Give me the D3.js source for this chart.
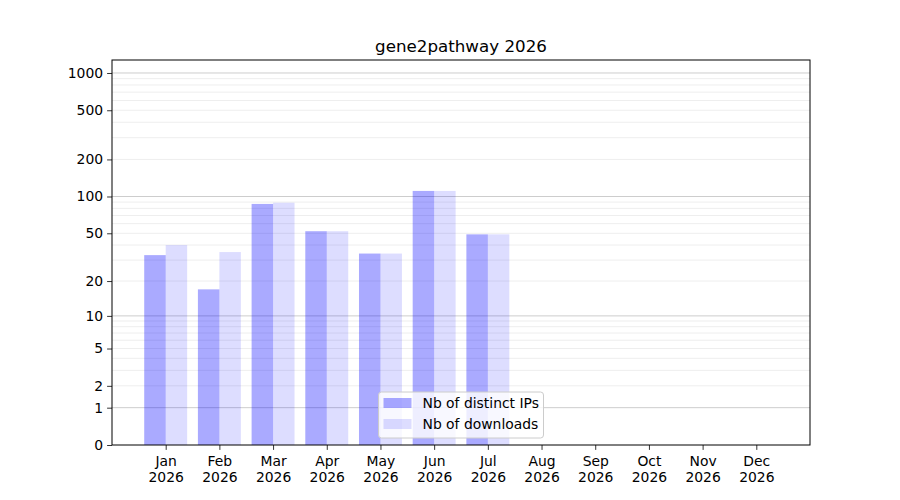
<!DOCTYPE html>
<html>
<head>
<meta charset="utf-8">
<script src="https://cdn.jsdelivr.net/npm/d3@7"></script>
<style>
  body { margin: 0; background: #fff; }
  text { font-family: "DejaVu Sans", sans-serif; fill: #000; }
</style>
</head>
<body>
<div id="container"></div>
<script>
/* DATA */
const months = ["Jan", "Feb", "Mar", "Apr", "May", "Jun", "Jul", "Aug", "Sep", "Oct", "Nov", "Dec"];
const year = "2026";
const distinctIPs = [33, 17, 87, 52, 34, 111, 49];
const downloads = [40, 35, 89, 52, 34, 111, 49];
const yTickValues = [0, 1, 2, 5, 10, 20, 50, 100, 200, 500, 1000];
const majorGrid = [1, 10, 100, 1000];
const minorGrid = [2, 3, 4, 5, 6, 7, 8, 9, 20, 30, 40, 50, 60, 70, 80, 90, 200, 300, 400, 500, 600, 700, 800, 900];

/* CONSTANTS */
const width = 900,
  height = 500,
  margin = { top: 60, bottom: 55, left: 112, right: 90 };

const svg = d3.select("#container")
  .append("svg")
  .attr("width", width)
  .attr("height", height);

// x: month index, one empty slot each side
const xScale = d3.scaleLinear()
  .domain([-1, 12])
  .range([margin.left, width - margin.right]);

const step = xScale(1) - xScale(0);
const barW = step * 0.4;

// log(1 + x) scale
const yScale = d3.scaleSymlog()
  .constant(1)
  .domain([0, 1273])
  .range([height - margin.bottom, margin.top]);

// gridlines
svg.append("g")
  .selectAll("line.minor")
  .data(minorGrid)
  .join("line")
  .attr("class", "minor")
  .attr("x1", margin.left)
  .attr("x2", width - margin.right)
  .attr("y1", d => yScale(d))
  .attr("y2", d => yScale(d))
  .attr("stroke", "#000")
  .attr("stroke-opacity", 0.07);

svg.append("g")
  .selectAll("line.major")
  .data(majorGrid)
  .join("line")
  .attr("class", "major")
  .attr("x1", margin.left)
  .attr("x2", width - margin.right)
  .attr("y1", d => yScale(d))
  .attr("y2", d => yScale(d))
  .attr("stroke", "#000")
  .attr("stroke-opacity", 0.2);

// bars
svg.append("g")
  .selectAll("rect.ip")
  .data(distinctIPs)
  .join("rect")
  .attr("class", "ip")
  .attr("x", (d, i) => xScale(i) - barW)
  .attr("y", d => yScale(d))
  .attr("width", barW)
  .attr("height", d => yScale(0) - yScale(d))
  .attr("fill", "blue")
  .attr("fill-opacity", 0.333);

svg.append("g")
  .selectAll("rect.dl")
  .data(downloads)
  .join("rect")
  .attr("class", "dl")
  .attr("x", (d, i) => xScale(i))
  .attr("y", d => yScale(d))
  .attr("width", barW)
  .attr("height", d => yScale(0) - yScale(d))
  .attr("fill", "blue")
  .attr("fill-opacity", 0.133);

// axes
const yAxis = d3.axisLeft(yScale)
  .tickValues(yTickValues)
  .tickFormat(d3.format("d"))
  .tickSize(4.9)
  .tickPadding(4);

const yG = svg.append("g")
  .attr("transform", `translate(${margin.left},0)`)
  .call(yAxis);
yG.select(".domain").remove();
yG.selectAll(".tick text")
  .attr("font-size", "13.9px")
  .attr("font-family", "DejaVu Sans");
yG.selectAll(".tick line").attr("stroke", "#000").attr("stroke-width", 0.8);

const xAxis = d3.axisBottom(xScale)
  .tickValues(d3.range(months.length))
  .tickFormat("")
  .tickSize(4.9);

const xG = svg.append("g")
  .attr("transform", `translate(0,${height - margin.bottom})`)
  .call(xAxis);
xG.select(".domain").remove();
xG.selectAll(".tick line").attr("stroke", "#000").attr("stroke-width", 0.8);

xG.selectAll(".tick")
  .append("text")
  .attr("text-anchor", "middle")
  .attr("font-size", "13.9px")
  .attr("font-family", "DejaVu Sans")
  .selectAll("tspan")
  .data((d, i) => [months[i], year])
  .join("tspan")
  .attr("x", 0)
  .attr("y", (d, j) => j === 0 ? 21 : 37)
  .text(d => d);

// frame
svg.append("rect")
  .attr("x", margin.left)
  .attr("y", margin.top)
  .attr("width", width - margin.left - margin.right)
  .attr("height", height - margin.top - margin.bottom)
  .attr("fill", "none")
  .attr("stroke", "#000")
  .attr("stroke-width", 1);

// title
svg.append("text")
  .attr("x", (margin.left + width - margin.right) / 2)
  .attr("y", 52)
  .attr("text-anchor", "middle")
  .style("font-size", "16.7px")
  .text("gene2pathway " + year);

// legend, lower center
const legendItems = [
  { label: "Nb of distinct IPs", opacity: 0.333 },
  { label: "Nb of downloads", opacity: 0.133 }
];
const legW = 165, legH = 46;
const legX = (margin.left + width - margin.right) / 2 - legW / 2;
const legY = height - margin.bottom - 7 - legH;

const legend = svg.append("g")
  .attr("transform", `translate(${legX},${legY})`);

legend.append("rect")
  .attr("width", legW)
  .attr("height", legH)
  .attr("rx", 3)
  .attr("fill", "#fff")
  .attr("fill-opacity", 0.8)
  .attr("stroke", "#ccc");

const li = legend.selectAll("g.item")
  .data(legendItems)
  .join("g")
  .attr("class", "item")
  .attr("transform", (d, i) => `translate(5,${6 + i * 21})`);

li.append("rect")
  .attr("width", 28)
  .attr("height", 10)
  .attr("fill", "blue")
  .attr("fill-opacity", d => d.opacity);

li.append("text")
  .attr("x", 39)
  .attr("y", 10)
  .attr("font-size", "13.9px")
  .text(d => d.label);
</script>
</body>
</html>
